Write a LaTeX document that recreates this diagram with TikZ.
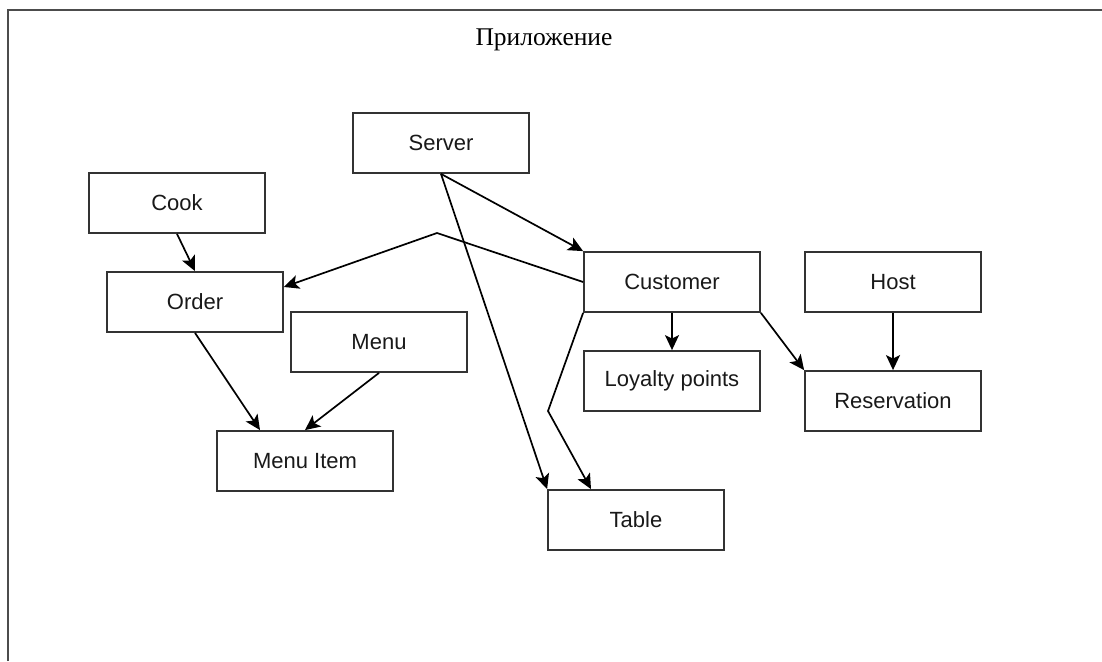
\documentclass[tikz,border=0pt]{standalone}
\usepackage{fontspec}
\setmainfont{Liberation Serif}
\newfontfamily\boxfont{Liberation Sans}
\usetikzlibrary{arrows.meta}

\tikzset{
  entity/.style={draw=black!80, line width=1.8pt, fill=white, rectangle,
    minimum width=176pt, minimum height=60pt, inner sep=0pt,
    font=\boxfont\fontsize{22}{26}\selectfont, text=black!90},
  conn/.style={line width=1.7pt, draw=black,
    -{Stealth[length=15pt,width=14pt,inset=3.5pt]}},
  frameline/.style={line width=2.2pt, draw=black!70},
}

\begin{document}
\begin{tikzpicture}[x=1pt, y=-1pt]
  \useasboundingbox (0,0) rectangle (1102,661);
  \fill[white] (0,0) rectangle (1102,661);

  % outer frame (left and top edges)
  \draw[frameline] (8,661) -- (8,10) -- (1102,10);

  % title
  \node[font=\fontsize{25.5}{30}\selectfont, anchor=base] (title) at (544,46) {Приложение};

  % classes
  \node[entity] (server)      at (441,143) {Server};
  \node[entity] (cook)        at (177,203) {Cook};
  \node[entity] (order)       at (195,302) {Order};
  \node[entity] (customer)    at (672,282) {Customer};
  \node[entity] (host)        at (893,282) {Host};
  \node[entity] (menu)        at (379,342) {Menu};
  \node[entity] (loyalty)     at (672,381) {Loyalty points};
  \node[entity] (reservation) at (893,401) {Reservation};
  \node[entity] (menuitem)    at (305,461) {Menu Item};
  \node[entity] (table)       at (636,520) {Table};

  % bend points
  \coordinate (bendA) at (437,233);
  \coordinate (bendB) at (548,411);

  % associations
  \draw[conn] (cook.south) -- (order.north);
  \draw[conn] (server.south) -- (customer.north west);
  \draw[conn] (server.south) -- (table.north west);
  \draw[conn] (customer.west) -- (bendA) -- ([yshift=15pt]order.east);
  \draw[conn] (customer.south west) -- (bendB) -- ([xshift=-45pt]table.north);
  \draw[conn] (customer.south) -- (loyalty.north);
  \draw[conn] (customer.south east) -- (reservation.north west);
  \draw[conn] (host.south) -- (reservation.north);
  \draw[conn] (order.south) -- ([xshift=-45pt]menuitem.north);
  \draw[conn] (menu.south) -- (menuitem.north);
\end{tikzpicture}
\end{document}
